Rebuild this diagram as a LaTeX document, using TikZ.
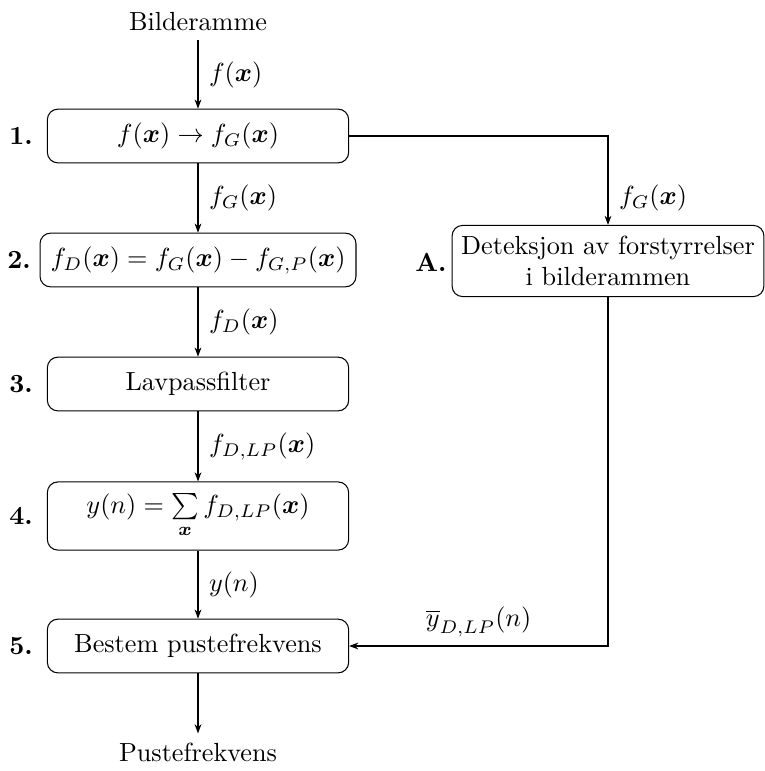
\documentclass[tikz,border=0pt]{standalone}
\usepackage{amsmath,bm}
\usetikzlibrary{arrows.meta}
\begin{document}
\begin{tikzpicture}[x=0.3817pt,y=-0.3817pt,
 box/.style={draw, rounded corners=4pt, minimum width=115pt, minimum height=20.5pt, align=center, inner xsep=3pt},
 arr/.style={-{Stealth[length=3.5pt,width=2.6pt]}},
 num/.style={font=\bfseries},
 elbl/.style={right, inner sep=4pt}]
\useasboundingbox (0,0) rectangle (764,771);
\node (in) at (198,22) {Bilderamme};
\node[box] (b1) at (198,136) {$f(\bm{x}) \rightarrow f_G(\bm{x})$};
\node[box, inner xsep=4pt] (b2) at (198,260) {$f_D(\bm{x}) = f_G(\bm{x}) - f_{G,P}(\bm{x})$};
\node[box] (b3) at (198,384) {Lavpassfilter};
\node[box, inner ysep=4.5pt] (b4) at (198,516) {$y(n) = \sum\limits_{\bm{x}} f_{D,LP}(\bm{x})$};
\node[box] (b5) at (198,646) {Bestem pustefrekvens};
\node[box, minimum width=119pt, inner xsep=2pt, inner ysep=4pt] (bA) at (608,261) {Deteksjon av forstyrrelser\\ i bilderammen};
\node (out) at (198,752) {Pustefrekvens};
\node[num] (n1) at (21,136) {1.};
\node[num] (n2) at (19,260) {2.};
\node[num] (n3) at (21,384) {3.};
\node[num] (n4) at (21,516) {4.};
\node[num] (n5) at (21,646) {5.};
\node[num] (nA) at (431,262) {A.};
\draw[arr] (in) -- node[elbl] {$f(\bm{x})$} (b1);
\draw[arr] (b1) -- node[elbl] {$f_G(\bm{x})$} (b2);
\draw[arr] (b2) -- node[elbl] {$f_D(\bm{x})$} (b3);
\draw[arr] (b3) -- node[elbl] {$f_{D,LP}(\bm{x})$} (b4);
\draw[arr] (b4) -- node[elbl] {$y(n)$} (b5);
\draw[arr] (b5) -- (out);
\draw[arr] (b1.east) -| node[pos=0.85, elbl] {$f_G(\bm{x})$} (bA.north);
\draw[arr] (bA.south) |- node[pos=0.75, above] {$\overline{y}_{D,LP}(n)$} (b5.east);
\end{tikzpicture}
\end{document}
